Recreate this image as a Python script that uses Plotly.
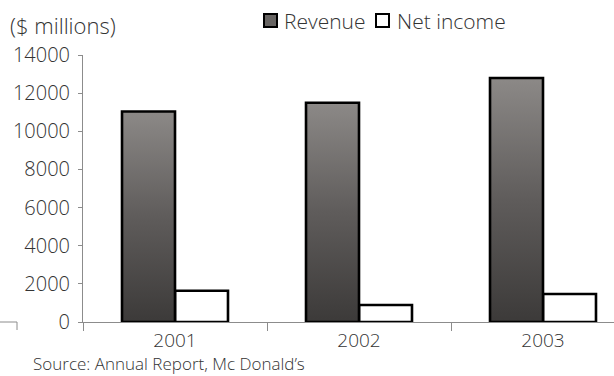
import plotly.graph_objects as go

# McDonald's company-operated sales and net income, $ millions
years = ["2001", "2002", "2003"]
revenue = [11041, 11500, 12795]
net_income = [1637, 893, 1471]

y_ticks = [0, 2000, 4000, 6000, 8000, 10000, 12000, 14000]

FONT = "Open Sans"
TEXT = "#333333"
AXIS = "#8c8c8c"

BAR_W = 0.288          # width of one bar in category units
centers = [i + 0.5 for i in range(len(years))]

fig = go.Figure()

# Revenue: gradient-filled bars (dark at the base, light at the top)
for c, v in zip(centers, revenue):
    fig.add_trace(go.Scatter(
        x=[c - BAR_W, c - BAR_W, c, c, c - BAR_W],
        y=[0, v, v, 0, 0],
        mode="lines",
        fill="toself",
        fillgradient=dict(type="vertical",
                          colorscale=[[0, "#3c3a39"], [0.5, "#5f5c5b"], [1, "#8c8987"]],
                          start=0, stop=v),
        line=dict(color="black", width=2.6),
        hoverinfo="skip",
        showlegend=False,
    ))

# Net income: white bars with a black outline
fig.add_trace(go.Bar(
    x=centers, y=net_income, width=BAR_W, offset=0,
    marker=dict(color="white", line=dict(color="black", width=2.6)),
    hoverinfo="skip", showlegend=False,
))

# Manual legend
def px_x(px):
    return (px - 83) / 531.0

def px_y(py):
    return (322 - py) / 267.0

shapes = [
    dict(type="rect", xref="paper", yref="paper",
         x0=px_x(264), x1=px_x(277), y0=px_y(27), y1=px_y(14),
         fillcolor="#676462", line=dict(color="black", width=2)),
    dict(type="rect", xref="paper", yref="paper",
         x0=px_x(376), x1=px_x(389), y0=px_y(27), y1=px_y(14),
         fillcolor="white", line=dict(color="black", width=2)),
    # stray axis stub at the lower left
    dict(type="path", xref="paper", yref="paper",
         path=f"M {px_x(0)},{px_y(322)} L {px_x(17)},{px_y(322)} L {px_x(17)},{px_y(330)}",
         line=dict(color=AXIS, width=1)),
]

annotations = [
    dict(text="Revenue", xref="paper", yref="paper", x=px_x(282), y=px_y(21),
         xanchor="left", yanchor="middle", showarrow=False,
         font=dict(family=FONT, size=21, color=TEXT, weight=300)),
    dict(text="Net income", xref="paper", yref="paper", x=px_x(395), y=px_y(21),
         xanchor="left", yanchor="middle", showarrow=False,
         font=dict(family=FONT, size=21, color=TEXT, weight=300)),
    dict(text="($ millions)", xref="paper", yref="paper", x=px_x(8), y=px_y(25),
         xanchor="left", yanchor="middle", showarrow=False,
         font=dict(family=FONT, size=22, color=TEXT, weight=300)),
    dict(text="Source: Annual Report, Mc Donald\u2019s", xref="paper", yref="paper",
         x=px_x(31), y=px_y(363), xanchor="left", yanchor="middle", showarrow=False,
         font=dict(family=FONT, size=17, color=TEXT, weight=300)),
]

fig.update_layout(
    width=614, height=376,
    margin=dict(l=83, r=0, t=55, b=54),
    paper_bgcolor="white", plot_bgcolor="white",
    showlegend=False,
    shapes=shapes, annotations=annotations,
    xaxis=dict(
        range=[0, 531 / 184.0],
        tickmode="array", tickvals=centers, ticktext=years,
        ticks="", showgrid=False, zeroline=False,
        showline=True, linecolor=AXIS, linewidth=1,
        tickfont=dict(family=FONT, size=19, color=TEXT, weight=300),
        ticklabelstandoff=1,
        minor=dict(tickmode="array", tickvals=[0, 1, 2], ticks="outside",
                   ticklen=8, tickcolor=AXIS, tickwidth=1, showgrid=False),
    ),
    yaxis=dict(
        range=[0, 14000],
        tickmode="array", tickvals=y_ticks, ticktext=[str(t) for t in y_ticks],
        ticks="outside", ticklen=4, tickcolor=AXIS, tickwidth=1,
        showgrid=False, zeroline=False,
        showline=True, linecolor=AXIS, linewidth=1,
        tickfont=dict(family=FONT, size=20, color=TEXT, weight=300),
        ticklabelstandoff=4,
    ),
)

fig.write_html("out.html")
